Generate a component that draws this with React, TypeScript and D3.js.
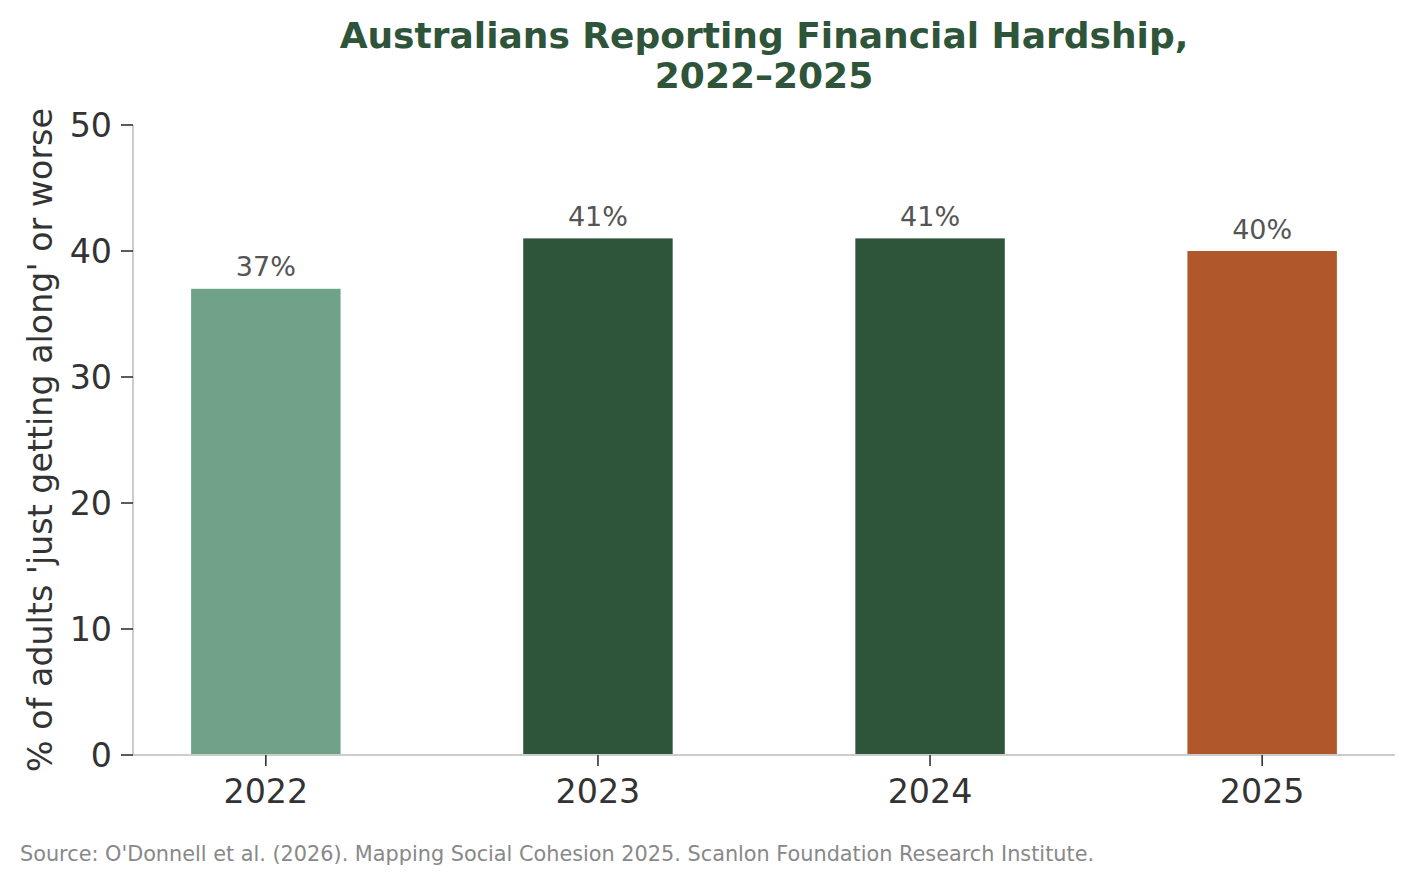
import React from "react";
import * as d3 from "d3";

const years = ["2022", "2023", "2024", "2025"];
const values = [37, 41, 41, 40];
const barColors = ["#6fa287", "#2e543a", "#2e543a", "#b0572b"];
const yTicks = [0, 10, 20, 30, 40, 50];

const W = 1415;
const H = 885;
const left = 133;
const right = 1395;
const top = 125;
const bottom = 755;
const font = "DejaVu Sans, sans-serif";

export default function App() {
  const x = d3.scaleLinear().domain([-0.4, 3.4]).range([left, right]);
  const y = d3.scaleLinear().domain([0, 50]).range([bottom, top]);
  const bw = x(0.45) - x(0);
  return (
    <svg width={W} height={H} style={{ position: "absolute", left: 0, top: 0, background: "#fff" }} fontFamily={font}>
      <text x={764} y={47.5} textAnchor="middle" fontSize={36} fontWeight="bold" fill="#2e543a">
        Australians Reporting Financial Hardship,
      </text>
      <text x={764} y={87.5} textAnchor="middle" fontSize={36} fontWeight="bold" fill="#2e543a">
        2022–2025
      </text>
      {values.map((v, i) => (
        <g key={years[i]}>
          <rect x={x(i) - bw / 2} y={y(v)} width={bw} height={y(0) - y(v)} fill={barColors[i]} />
          <text x={x(i)} y={y(v) - 12.5} textAnchor="middle" fontSize={27} fill="#555">
            {v}%
          </text>
        </g>
      ))}
      <line x1={left} x2={left} y1={top} y2={bottom} stroke="#ccc" strokeWidth={2} />
      <line x1={left} x2={right} y1={bottom} y2={bottom} stroke="#ccc" strokeWidth={2} />
      {yTicks.map((t) => (
        <g key={t}>
          <line x1={left - 12} x2={left} y1={y(t)} y2={y(t)} stroke="#333" strokeWidth={1.6} />
          <text x={left - 21} y={y(t) + 11.8} textAnchor="end" fontSize={33.3} fill="#333">
            {t}
          </text>
        </g>
      ))}
      {years.map((yr, i) => (
        <g key={yr}>
          <line x1={x(i)} x2={x(i)} y1={bottom} y2={bottom + 11} stroke="#333" strokeWidth={1.6} />
          <text x={x(i)} y={803} textAnchor="middle" fontSize={33.3} fill="#333">
            {yr}
          </text>
        </g>
      ))}
      <text
        transform={`translate(52, 440) rotate(-90)`}
        textAnchor="middle"
        fontSize={33.3}
        fill="#333"
      >
        % of adults 'just getting along' or worse
      </text>
      <text x={20} y={861} fontSize={20.8} fill="#888">
        Source: O'Donnell et al. (2026). Mapping Social Cohesion 2025. Scanlon Foundation Research Institute.
      </text>
    </svg>
  );
}
